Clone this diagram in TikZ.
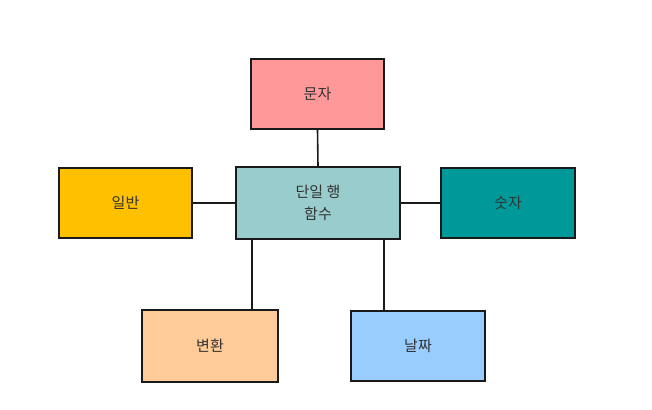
\documentclass[tikz,border=0pt]{standalone}
\usepackage{fontspec}
\newfontfamily\kofont{Noto Sans CJK KR}
\definecolor{ink}{HTML}{1A1A1A}
\definecolor{txt}{HTML}{333333}
\definecolor{charbox}{HTML}{FF9999}
\definecolor{hubbox}{HTML}{99CCCC}
\definecolor{genbox}{HTML}{FFC000}
\definecolor{numbox}{HTML}{009999}
\definecolor{convbox}{HTML}{FFCC99}
\definecolor{datebox}{HTML}{99CCFF}

\begin{document}
\begin{tikzpicture}[x=1pt,y=-1pt,font=\kofont\fontsize{15}{22}\selectfont,
  func/.style={draw=ink,line width=1.8pt,text=txt,align=center,inner sep=0pt,minimum width=133pt,minimum height=70pt},
  link/.style={draw=ink,line width=1.6pt}]
  \useasboundingbox (0,0) rectangle (652,409);

  % ===== boxes =====
  \node[func,fill=hubbox,minimum width=164pt,minimum height=72pt] (hub) at (318,203) {단일 행\\함수};
  \node[func,fill=charbox] (char) at (317.5,94) {문자};
  \node[func,fill=genbox] (gen) at (125.5,203) {일반};
  \node[func,fill=numbox,minimum width=134pt] (num) at (508,203) {숫자};
  \node[func,fill=convbox,minimum width=136pt,minimum height=72pt] (conv) at (210,346) {변환};
  \node[func,fill=datebox,minimum width=134pt] (date) at (418,346) {날짜};

  % ===== links =====
  \draw[link] (char.south) -- (hub.north);
  \draw[link] (gen.east) -- (hub.west);
  \draw[link] (hub.east) -- (num.west);
  \draw[link] (hub.south -| 252,0) -- (conv.north -| 252,0);
  \draw[link] (hub.south -| 384,0) -- (date.north -| 384,0);
\end{tikzpicture}
\end{document}
